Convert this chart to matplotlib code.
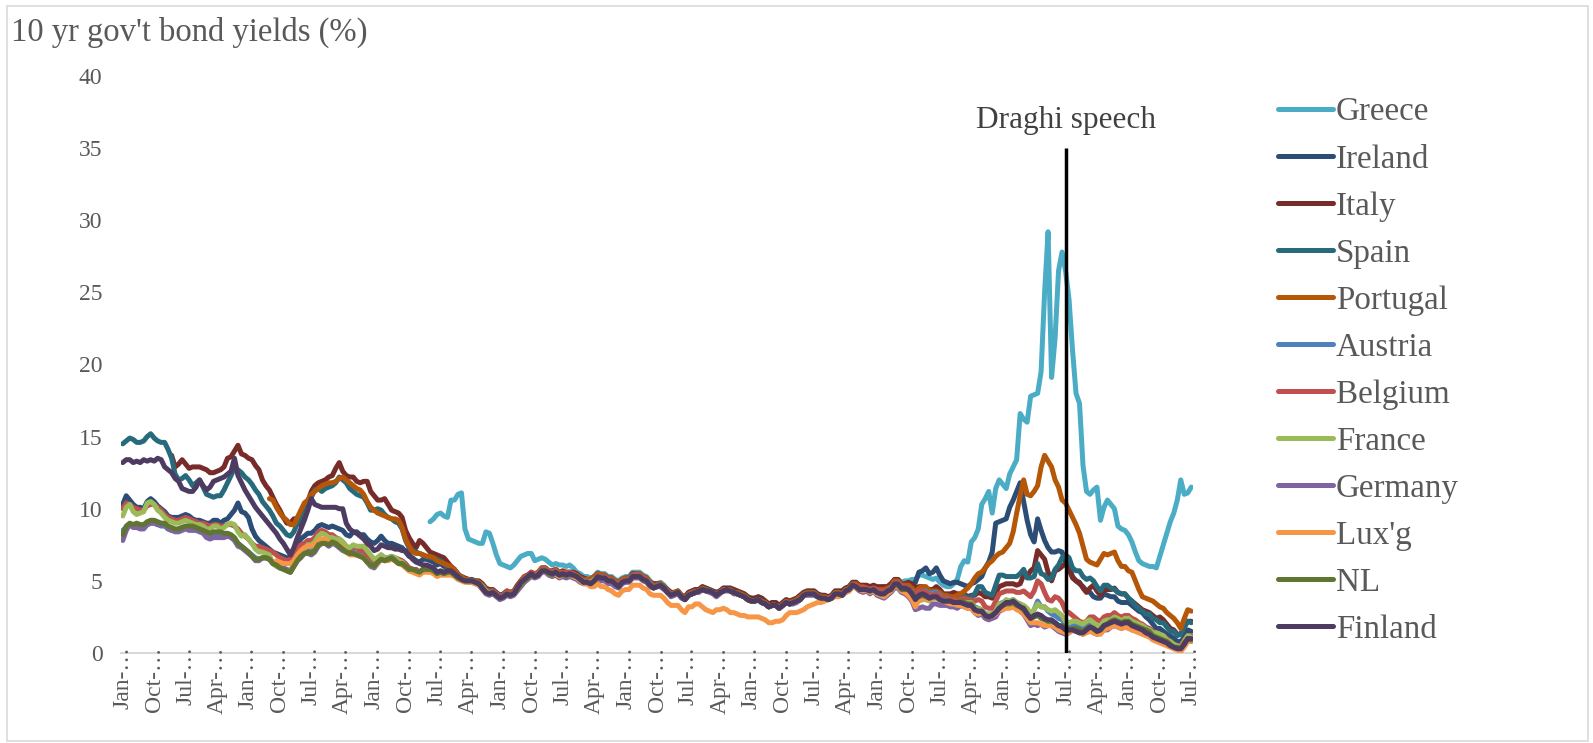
import numpy as np
import pandas as pd
import matplotlib
matplotlib.use("Agg")
import matplotlib.pyplot as plt
from matplotlib.patches import Rectangle

plt.rcParams["font.family"] = ["Liberation Serif", "DejaVu Serif"]

# Monthly categories, Jan-1990 .. Jul-2015
months = pd.date_range("1990-01-01", "2015-07-01", freq="MS")
month_names = [d.strftime("%b") for d in months]

# 10-year government bond yields (%), monthly; each series starts at its own month index
greece_start = 88
greece = [
    9.1, 9.3, 9.6, 9.7, 9.5, 9.4, 10.6, 10.6,
    11.0, 11.1, 8.6, 7.9, 7.8, 7.7, 7.6, 7.6, 8.4, 8.3, 7.6, 6.8,
    6.2, 6.1, 6.0, 5.9, 6.1, 6.4, 6.7, 6.8, 6.9, 6.9, 6.4, 6.5,
    6.6, 6.5, 6.3, 6.1, 6.2, 6.1, 6.1, 6.0, 6.1, 5.9, 5.6, 5.5,
    5.3, 5.3, 5.2, 5.3, 5.6, 5.5, 5.5, 5.3, 5.3, 5.1, 5.0, 5.2,
    5.3, 5.3, 5.6, 5.6, 5.6, 5.4, 5.3, 5.0, 4.8, 4.8, 4.9, 4.7,
    4.4, 4.2, 4.2, 4.3, 4.0, 3.9, 4.2, 4.3, 4.4, 4.4, 4.6, 4.5,
    4.4, 4.3, 4.2, 4.3, 4.5, 4.5, 4.5, 4.4, 4.3, 4.2, 4.1, 3.9,
    3.8, 3.8, 3.9, 3.8, 3.6, 3.4, 3.5, 3.5, 3.3, 3.5, 3.7, 3.6,
    3.7, 3.8, 4.0, 4.2, 4.3, 4.3, 4.3, 4.1, 4.0, 4.0, 3.9, 4.0,
    4.3, 4.3, 4.3, 4.5, 4.6, 4.9, 4.9, 4.6, 4.6, 4.6, 4.4, 4.6,
    4.4, 4.5, 4.6, 4.6, 4.8, 5.0, 5.1, 4.9, 5.0, 5.0, 5.1, 5.1,
    5.4, 5.4, 5.3, 5.2, 5.1, 5.2, 4.9, 4.7, 4.6, 4.6, 4.8, 5.1,
    6.0, 6.4, 6.3, 7.7, 8.0, 8.6, 10.3, 10.7, 11.2, 9.7, 11.4, 12.0,
    11.7, 11.4, 12.4, 12.9, 13.4, 16.6, 16.2, 16.0, 17.8, 17.9, 18.0, 19.5,
    25.0, 29.2, 19.1, 21.8, 26.5, 27.8, 26.5, 24.5, 21.0, 18.0, 17.3, 13.0,
    11.2, 11.0, 11.3, 11.5, 9.2, 10.1, 10.6, 10.3, 10.0, 8.8, 8.6, 8.5,
    8.2, 7.7, 7.0, 6.4, 6.2, 6.1, 6.0, 6.0, 5.9, 6.7, 7.5, 8.3,
    9.1, 9.7, 10.6, 12.0, 11.0, 11.1, 11.5,
]

ireland_start = 0
ireland = [
    10.3, 10.9, 10.6, 10.3, 10.1, 10.1, 10.0, 10.5, 10.7, 10.5, 10.2, 10.0,
    9.8, 9.5, 9.4, 9.4, 9.4, 9.5, 9.6, 9.5, 9.3, 9.2, 9.2, 9.1,
    9.0, 9.0, 9.2, 9.2, 9.0, 9.2, 9.3, 9.6, 9.9, 10.4, 9.8, 9.7,
    9.4, 8.6, 8.1, 7.8, 7.6, 7.4, 7.2, 7.0, 6.9, 6.8, 6.7, 6.6,
    6.6, 6.9, 7.5, 7.9, 8.1, 8.3, 8.3, 8.5, 8.8, 8.9, 8.8, 8.7,
    8.8, 8.7, 8.6, 8.5, 8.2, 8.1, 8.4, 8.4, 8.2, 8.2, 7.9, 7.7,
    7.6, 7.8, 8.1, 7.8, 7.6, 7.6, 7.5, 7.4, 7.3, 7.0, 6.7, 6.6,
    6.4, 6.3, 6.5, 6.5, 6.4, 6.3, 6.1, 6.2, 6.0, 6.0, 6.0, 5.8,
    5.5, 5.2, 5.1, 5.1, 5.1, 5.0, 4.9, 4.6, 4.3, 4.2, 4.3, 4.1,
    3.8, 3.9, 4.1, 4.0, 4.2, 4.5, 4.9, 5.1, 5.3, 5.5, 5.4, 5.5,
    5.8, 5.8, 5.6, 5.5, 5.6, 5.4, 5.5, 5.5, 5.5, 5.4, 5.3, 5.0,
    4.9, 4.9, 4.9, 5.0, 5.3, 5.2, 5.2, 5.0, 5.0, 4.8, 4.7, 4.9,
    5.0, 5.0, 5.3, 5.3, 5.3, 5.1, 5.0, 4.7, 4.6, 4.6, 4.7, 4.5,
    4.2, 4.0, 4.1, 4.2, 3.9, 3.7, 4.0, 4.1, 4.2, 4.3, 4.4, 4.4,
    4.3, 4.2, 4.0, 4.2, 4.3, 4.4, 4.3, 4.2, 4.1, 4.0, 3.9, 3.7,
    3.6, 3.6, 3.7, 3.5, 3.4, 3.2, 3.3, 3.3, 3.1, 3.3, 3.5, 3.4,
    3.5, 3.6, 3.7, 4.0, 4.1, 4.1, 4.1, 3.9, 3.8, 3.8, 3.7, 3.8,
    4.1, 4.1, 4.1, 4.3, 4.4, 4.7, 4.6, 4.4, 4.4, 4.4, 4.3, 4.4,
    4.3, 4.2, 4.3, 4.4, 4.5, 4.8, 4.8, 4.6, 4.6, 4.6, 4.6, 4.9,
    5.6, 5.7, 5.9, 5.5, 5.6, 5.9, 5.4, 5.0, 4.9, 4.8, 4.9, 4.9,
    4.8, 4.7, 4.6, 4.8, 4.9, 5.1, 5.3, 5.9, 6.3, 7.0, 9.0, 9.1,
    9.2, 9.3, 10.1, 10.6, 11.2, 11.8, 10.5, 9.2, 8.2, 7.7, 9.3, 8.5,
    7.8, 7.3, 7.0, 7.0, 7.1, 7.0, 6.3, 6.0, 5.3, 5.0, 4.8, 4.6,
    4.3, 4.2, 3.9, 3.8, 3.8, 4.1, 4.0, 3.9, 3.9, 3.6, 3.5, 3.5,
    3.5, 3.3, 3.1, 2.9, 2.8, 2.5, 2.3, 2.0, 1.7, 1.7, 1.5, 1.3,
    1.2, 1.0, 0.8, 0.8, 1.1, 1.6, 1.5,
]

italy_start = 14
italy = [
    13.7, 12.9, 13.1, 13.4, 13.1, 12.8, 12.9, 12.9, 12.9, 12.8,
    12.7, 12.5, 12.5, 12.6, 12.7, 12.9, 13.5, 13.6, 14.0, 14.4, 13.8, 13.7,
    13.5, 13.4, 13.0, 12.7, 12.0, 11.6, 11.3, 10.8, 10.3, 9.9, 9.4, 9.0,
    9.0, 9.3, 9.3, 8.8, 9.6, 10.5, 11.2, 11.6, 11.8, 11.9, 12.0, 12.2,
    12.3, 12.8, 13.2, 12.6, 12.3, 12.2, 12.2, 11.9, 11.8, 11.9, 11.9, 11.2,
    10.9, 10.6, 10.6, 10.7, 10.3, 9.9, 9.8, 9.7, 9.4, 8.5, 8.0, 7.6,
    7.3, 7.8, 7.6, 7.3, 7.0, 6.9, 6.8, 6.7, 6.6, 6.3, 6.0, 5.7,
    5.4, 5.3, 5.2, 5.1, 5.0, 5.0, 5.0, 4.8, 4.5, 4.4, 4.4, 4.2,
    4.0, 4.1, 4.3, 4.2, 4.3, 4.7, 5.0, 5.3, 5.4, 5.6, 5.4, 5.6,
    5.9, 5.9, 5.7, 5.7, 5.8, 5.6, 5.7, 5.6, 5.6, 5.6, 5.5, 5.3,
    5.2, 5.1, 5.1, 5.3, 5.5, 5.4, 5.4, 5.2, 5.2, 5.0, 4.9, 5.1,
    5.2, 5.2, 5.5, 5.5, 5.5, 5.3, 5.2, 4.9, 4.8, 4.8, 4.8, 4.6,
    4.4, 4.2, 4.2, 4.3, 4.0, 3.9, 4.2, 4.3, 4.4, 4.4, 4.6, 4.5,
    4.4, 4.3, 4.2, 4.3, 4.5, 4.5, 4.5, 4.4, 4.3, 4.2, 4.1, 3.9,
    3.8, 3.8, 3.9, 3.8, 3.6, 3.4, 3.5, 3.5, 3.3, 3.5, 3.7, 3.6,
    3.7, 3.8, 4.0, 4.2, 4.3, 4.3, 4.3, 4.1, 4.0, 4.0, 3.9, 4.0,
    4.3, 4.3, 4.3, 4.5, 4.6, 4.9, 4.9, 4.7, 4.7, 4.7, 4.6, 4.7,
    4.6, 4.6, 4.6, 4.6, 4.8, 5.1, 5.1, 4.8, 4.8, 4.9, 4.8, 4.5,
    4.6, 4.6, 4.5, 4.4, 4.4, 4.6, 4.4, 4.1, 4.1, 4.1, 4.2, 4.1,
    4.1, 4.1, 3.9, 4.0, 4.0, 4.2, 4.1, 3.9, 3.9, 3.8, 4.2, 4.6,
    4.7, 4.8, 4.8, 4.8, 4.7, 4.8, 5.4, 5.3, 5.7, 5.9, 7.1, 6.8,
    6.5, 5.6, 5.0, 5.7, 5.8, 6.0, 6.2, 5.8, 5.2, 5.0, 4.9, 4.5,
    4.2, 4.5, 4.7, 4.3, 4.0, 4.4, 4.4, 4.4, 4.5, 4.2, 4.1, 4.1,
    3.8, 3.6, 3.4, 3.2, 3.0, 2.9, 2.8, 2.6, 2.4, 2.5, 2.3, 2.0,
    1.7, 1.6, 1.3, 1.3, 1.8, 2.2, 2.2,
]

spain_start = 0
spain = [
    14.5, 14.7, 14.9, 14.8, 14.6, 14.6, 14.7, 15.0, 15.2, 14.9, 14.7, 14.6,
    14.6, 14.1, 13.5, 12.4, 12.0, 12.1, 12.3, 12.0, 11.6, 11.8, 12.0, 11.5,
    11.0, 10.9, 10.8, 10.9, 10.9, 11.3, 11.8, 12.3, 12.8, 12.7, 12.5, 12.2,
    12.0, 11.7, 11.3, 11.0, 10.5, 10.2, 9.9, 9.5, 9.0, 8.8, 8.5, 8.2,
    8.1, 8.4, 9.0, 9.5, 10.0, 10.5, 10.8, 11.3, 11.4, 11.2, 11.4, 11.5,
    11.6, 11.8, 12.2, 12.0, 11.8, 11.4, 11.2, 11.0, 10.9, 10.8, 10.4, 9.9,
    9.9, 10.0, 9.9, 9.6, 9.4, 9.3, 9.1, 9.0, 8.6, 7.8, 7.3, 7.1,
    7.0, 6.9, 6.8, 6.7, 6.6, 6.6, 6.5, 6.4, 6.2, 6.0, 5.9, 5.7,
    5.4, 5.3, 5.1, 5.1, 5.0, 5.0, 4.9, 4.7, 4.4, 4.3, 4.3, 4.1,
    3.9, 4.0, 4.2, 4.1, 4.2, 4.6, 4.9, 5.2, 5.4, 5.5, 5.4, 5.5,
    5.8, 5.8, 5.6, 5.5, 5.7, 5.5, 5.5, 5.5, 5.5, 5.4, 5.3, 5.1,
    5.0, 5.0, 5.0, 5.2, 5.4, 5.3, 5.3, 5.1, 5.1, 4.9, 4.8, 5.0,
    5.1, 5.1, 5.4, 5.4, 5.4, 5.2, 5.1, 4.8, 4.6, 4.7, 4.7, 4.5,
    4.3, 4.0, 4.1, 4.2, 3.9, 3.7, 4.0, 4.1, 4.2, 4.3, 4.4, 4.4,
    4.3, 4.2, 4.0, 4.2, 4.3, 4.4, 4.3, 4.2, 4.1, 4.0, 3.9, 3.7,
    3.6, 3.6, 3.7, 3.5, 3.4, 3.2, 3.3, 3.3, 3.1, 3.3, 3.5, 3.4,
    3.5, 3.6, 3.7, 4.0, 4.1, 4.1, 4.1, 3.9, 3.8, 3.8, 3.7, 3.8,
    4.1, 4.1, 4.0, 4.3, 4.4, 4.7, 4.7, 4.5, 4.4, 4.4, 4.3, 4.4,
    4.3, 4.3, 4.3, 4.4, 4.5, 4.8, 4.9, 4.6, 4.6, 4.6, 4.3, 3.9,
    4.2, 4.2, 4.1, 4.0, 4.1, 4.3, 4.1, 3.9, 3.8, 3.8, 3.8, 3.8,
    4.0, 4.0, 3.8, 3.9, 4.1, 4.6, 4.6, 4.2, 4.1, 4.0, 4.7, 5.4,
    5.4, 5.3, 5.3, 5.3, 5.3, 5.5, 5.8, 5.2, 5.2, 5.3, 6.2, 5.5,
    5.4, 5.1, 5.2, 5.8, 6.1, 6.6, 6.8, 6.6, 5.9, 5.7, 5.7, 5.3,
    5.1, 5.2, 5.0, 4.6, 4.3, 4.7, 4.7, 4.5, 4.4, 4.2, 4.1, 4.1,
    3.8, 3.6, 3.3, 3.1, 2.9, 2.7, 2.7, 2.4, 2.3, 2.1, 2.1, 1.8,
    1.5, 1.5, 1.2, 1.3, 1.8, 2.2, 2.1,
]

portugal_start = 42
portugal = [
    10.7, 10.6, 10.1, 9.7, 9.4, 9.2,
    8.9, 8.9, 9.4, 9.9, 10.4, 10.6, 11.0, 11.2, 11.4, 11.6, 11.7, 11.8,
    11.8, 11.9, 12.1, 12.2, 12.0, 11.8, 11.6, 11.4, 11.3, 11.0, 10.5, 10.1,
    9.9, 9.7, 9.6, 9.5, 9.4, 9.3, 9.3, 9.2, 8.7, 7.9, 7.4, 7.0,
    6.9, 6.9, 6.8, 6.7, 6.7, 6.6, 6.4, 6.3, 6.2, 6.1, 6.0, 5.8,
    5.4, 5.3, 5.1, 5.1, 5.0, 5.0, 4.9, 4.7, 4.4, 4.3, 4.3, 4.1,
    3.9, 4.0, 4.3, 4.2, 4.3, 4.6, 5.0, 5.3, 5.4, 5.6, 5.5, 5.6,
    5.9, 5.9, 5.7, 5.6, 5.8, 5.6, 5.6, 5.6, 5.6, 5.5, 5.4, 5.2,
    5.1, 5.1, 5.1, 5.3, 5.5, 5.4, 5.4, 5.2, 5.2, 5.0, 4.9, 5.1,
    5.2, 5.2, 5.4, 5.5, 5.5, 5.3, 5.2, 4.9, 4.7, 4.7, 4.8, 4.6,
    4.3, 4.1, 4.2, 4.3, 4.0, 3.8, 4.1, 4.2, 4.3, 4.3, 4.5, 4.4,
    4.3, 4.2, 4.1, 4.2, 4.4, 4.4, 4.4, 4.2, 4.2, 4.1, 4.0, 3.8,
    3.6, 3.6, 3.7, 3.6, 3.5, 3.3, 3.3, 3.3, 3.2, 3.4, 3.6, 3.5,
    3.6, 3.7, 3.9, 4.1, 4.2, 4.2, 4.2, 4.0, 3.9, 3.9, 3.8, 3.9,
    4.2, 4.2, 4.1, 4.4, 4.5, 4.8, 4.8, 4.6, 4.6, 4.5, 4.4, 4.5,
    4.4, 4.4, 4.4, 4.5, 4.6, 5.0, 5.0, 4.7, 4.7, 4.7, 4.5, 4.2,
    4.5, 4.6, 4.6, 4.3, 4.3, 4.3, 4.2, 4.0, 4.0, 3.9, 3.9, 4.0,
    4.1, 4.3, 4.5, 4.8, 5.2, 5.5, 5.6, 5.9, 6.2, 6.4, 6.7, 6.9,
    7.0, 7.3, 7.6, 8.4, 9.7, 10.9, 12.0, 11.0, 10.9, 11.2, 11.6, 12.9,
    13.7, 13.3, 12.9, 12.0, 11.5, 10.6, 10.4, 9.9, 9.4, 8.9, 8.3, 7.4,
    6.5, 6.3, 6.2, 6.1, 6.5, 6.9, 6.8, 6.9, 7.0, 6.4, 6.0, 6.0,
    5.7, 5.6, 5.0, 4.4, 3.9, 3.8, 3.7, 3.6, 3.4, 3.2, 3.1, 2.8,
    2.6, 2.4, 2.1, 1.7, 2.4, 3.0, 2.9,
]

austria_start = 0
austria = [
    8.5, 8.7, 8.9, 8.8, 8.8, 8.7, 8.7, 8.9, 9.0, 9.0, 8.9, 8.8,
    8.8, 8.6, 8.5, 8.5, 8.6, 8.7, 8.7, 8.6, 8.6, 8.6, 8.5, 8.4,
    8.2, 8.1, 8.2, 8.2, 8.2, 8.2, 8.2, 8.1, 7.9, 7.6, 7.4, 7.2,
    7.0, 6.8, 6.6, 6.5, 6.6, 6.6, 6.5, 6.3, 6.2, 6.0, 5.9, 5.8,
    5.7, 6.1, 6.5, 6.8, 7.0, 7.2, 7.1, 7.2, 7.6, 7.7, 7.7, 7.6,
    7.7, 7.6, 7.5, 7.3, 7.1, 7.0, 7.0, 6.9, 6.8, 6.7, 6.5, 6.2,
    6.1, 6.3, 6.6, 6.5, 6.5, 6.6, 6.5, 6.3, 6.3, 6.1, 5.9, 5.8,
    5.7, 5.6, 5.8, 5.8, 5.8, 5.7, 5.6, 5.6, 5.6, 5.6, 5.6, 5.4,
    5.2, 5.1, 5.0, 5.0, 5.0, 4.9, 4.8, 4.6, 4.3, 4.2, 4.3, 4.1,
    3.9, 4.0, 4.2, 4.1, 4.2, 4.5, 4.9, 5.1, 5.3, 5.5, 5.4, 5.5,
    5.8, 5.8, 5.6, 5.5, 5.7, 5.5, 5.5, 5.5, 5.5, 5.4, 5.3, 5.1,
    5.0, 5.0, 4.9, 5.1, 5.3, 5.3, 5.3, 5.1, 5.1, 4.9, 4.7, 5.0,
    5.1, 5.1, 5.4, 5.4, 5.4, 5.2, 5.1, 4.8, 4.6, 4.7, 4.7, 4.5,
    4.3, 4.0, 4.1, 4.2, 3.9, 3.7, 4.0, 4.1, 4.2, 4.3, 4.4, 4.4,
    4.3, 4.2, 4.0, 4.2, 4.3, 4.4, 4.3, 4.2, 4.1, 4.0, 3.9, 3.7,
    3.6, 3.6, 3.7, 3.5, 3.4, 3.2, 3.3, 3.3, 3.1, 3.3, 3.5, 3.4,
    3.5, 3.6, 3.7, 4.0, 4.1, 4.1, 4.1, 3.9, 3.8, 3.8, 3.7, 3.8,
    4.1, 4.1, 4.0, 4.3, 4.4, 4.7, 4.6, 4.4, 4.4, 4.4, 4.3, 4.4,
    4.2, 4.1, 4.1, 4.3, 4.4, 4.8, 4.8, 4.5, 4.5, 4.5, 4.3, 4.0,
    4.2, 4.3, 4.3, 4.1, 4.2, 4.2, 4.0, 3.8, 3.8, 3.7, 3.6, 3.6,
    3.7, 3.6, 3.5, 3.5, 3.2, 3.1, 3.0, 2.7, 2.7, 2.7, 3.0, 3.4,
    3.5, 3.6, 3.6, 3.7, 3.5, 3.4, 3.2, 2.9, 2.7, 3.0, 3.6, 3.2,
    3.2, 2.9, 2.7, 2.6, 2.4, 2.3, 2.0, 1.9, 2.0, 2.0, 1.8, 1.7,
    1.9, 2.0, 1.8, 1.6, 1.6, 2.0, 2.0, 2.2, 2.3, 2.2, 2.1, 2.2,
    2.2, 2.0, 1.9, 1.8, 1.7, 1.5, 1.5, 1.2, 1.1, 1.0, 0.9, 0.8,
    0.6, 0.4, 0.3, 0.3, 0.6, 1.0, 1.0,
]

belgium_start = 0
belgium = [
    10.0, 10.4, 10.3, 10.1, 10.0, 9.9, 9.9, 10.2, 10.3, 10.3, 10.1, 9.9,
    9.6, 9.4, 9.3, 9.2, 9.2, 9.3, 9.4, 9.3, 9.2, 9.1, 9.0, 9.0,
    8.9, 8.8, 8.9, 8.9, 8.8, 8.8, 8.9, 8.9, 8.8, 8.6, 8.3, 8.1,
    7.9, 7.6, 7.4, 7.4, 7.3, 7.2, 7.1, 7.0, 6.8, 6.6, 6.5, 6.4,
    6.5, 6.8, 7.2, 7.5, 7.6, 7.8, 7.8, 8.0, 8.4, 8.5, 8.4, 8.2,
    8.2, 8.0, 7.9, 7.7, 7.4, 7.2, 7.3, 7.3, 7.1, 7.1, 6.8, 6.6,
    6.4, 6.6, 6.8, 6.6, 6.6, 6.7, 6.6, 6.5, 6.4, 6.2, 5.9, 5.8,
    5.8, 5.6, 5.8, 5.9, 5.8, 5.7, 5.5, 5.6, 5.6, 5.6, 5.7, 5.5,
    5.3, 5.1, 5.0, 5.0, 5.0, 4.9, 4.8, 4.6, 4.3, 4.2, 4.3, 4.1,
    3.9, 4.0, 4.2, 4.1, 4.2, 4.5, 4.9, 5.2, 5.4, 5.6, 5.4, 5.5,
    5.8, 5.8, 5.7, 5.6, 5.7, 5.5, 5.6, 5.5, 5.6, 5.5, 5.3, 5.1,
    5.0, 5.0, 5.0, 5.1, 5.4, 5.3, 5.3, 5.1, 5.1, 4.9, 4.8, 5.0,
    5.1, 5.1, 5.4, 5.4, 5.4, 5.2, 5.1, 4.7, 4.6, 4.7, 4.7, 4.5,
    4.3, 4.0, 4.1, 4.2, 3.9, 3.7, 4.0, 4.2, 4.2, 4.3, 4.4, 4.4,
    4.3, 4.2, 4.0, 4.2, 4.4, 4.4, 4.3, 4.2, 4.1, 4.0, 3.9, 3.7,
    3.6, 3.6, 3.7, 3.5, 3.4, 3.2, 3.3, 3.3, 3.1, 3.3, 3.5, 3.4,
    3.5, 3.6, 3.8, 4.0, 4.1, 4.1, 4.1, 3.9, 3.8, 3.8, 3.8, 3.9,
    4.1, 4.1, 4.1, 4.3, 4.4, 4.7, 4.7, 4.5, 4.5, 4.5, 4.4, 4.5,
    4.4, 4.3, 4.3, 4.4, 4.5, 4.9, 4.9, 4.6, 4.6, 4.5, 4.3, 4.0,
    4.3, 4.3, 4.2, 4.0, 4.0, 4.1, 3.9, 3.8, 3.7, 3.7, 3.7, 3.6,
    3.7, 3.8, 3.7, 3.7, 3.6, 3.7, 3.6, 3.2, 3.1, 3.1, 3.6, 4.1,
    4.2, 4.3, 4.3, 4.3, 4.2, 4.2, 4.3, 4.1, 3.9, 4.3, 5.0, 4.8,
    4.2, 3.7, 3.6, 3.9, 3.8, 3.5, 2.9, 2.8, 2.6, 2.4, 2.2, 2.1,
    2.2, 2.5, 2.5, 2.3, 2.2, 2.5, 2.6, 2.6, 2.8, 2.6, 2.5, 2.6,
    2.6, 2.4, 2.3, 2.1, 2.0, 1.8, 1.7, 1.5, 1.4, 1.3, 1.2, 1.0,
    0.8, 0.6, 0.5, 0.5, 0.9, 1.2, 1.2,
]

france_start = 0
france = [
    9.5, 10.1, 10.3, 9.8, 9.6, 9.7, 9.8, 10.4, 10.5, 10.3, 9.9, 9.7,
    9.4, 9.2, 9.1, 9.0, 9.0, 9.1, 9.2, 9.1, 9.0, 8.9, 8.9, 8.8,
    8.6, 8.6, 8.8, 8.8, 8.6, 8.7, 8.9, 9.0, 8.9, 8.4, 8.1, 8.2,
    7.9, 7.6, 7.2, 7.0, 7.0, 6.9, 6.8, 6.2, 6.0, 5.9, 5.8, 5.7,
    5.6, 6.1, 6.6, 7.0, 7.2, 7.5, 7.5, 7.7, 8.1, 8.3, 8.2, 8.0,
    8.0, 7.9, 7.9, 7.7, 7.4, 7.3, 7.5, 7.4, 7.4, 7.4, 7.1, 6.8,
    6.5, 6.6, 6.8, 6.6, 6.6, 6.7, 6.6, 6.4, 6.3, 6.0, 5.7, 5.7,
    5.6, 5.6, 5.7, 5.7, 5.7, 5.6, 5.4, 5.5, 5.5, 5.6, 5.6, 5.4,
    5.2, 5.1, 5.0, 5.0, 5.0, 4.9, 4.8, 4.6, 4.3, 4.1, 4.2, 4.0,
    3.8, 3.9, 4.1, 4.0, 4.1, 4.4, 4.8, 5.1, 5.3, 5.4, 5.3, 5.4,
    5.7, 5.7, 5.6, 5.5, 5.6, 5.4, 5.4, 5.4, 5.4, 5.4, 5.3, 5.1,
    4.9, 4.9, 4.9, 5.1, 5.3, 5.2, 5.2, 5.0, 5.0, 4.8, 4.6, 4.9,
    5.0, 5.0, 5.3, 5.3, 5.3, 5.1, 5.0, 4.7, 4.5, 4.6, 4.7, 4.5,
    4.2, 4.0, 4.1, 4.2, 3.9, 3.7, 4.0, 4.1, 4.2, 4.3, 4.4, 4.3,
    4.3, 4.2, 4.0, 4.2, 4.3, 4.4, 4.3, 4.2, 4.1, 4.0, 3.9, 3.7,
    3.6, 3.6, 3.7, 3.5, 3.4, 3.2, 3.3, 3.3, 3.1, 3.3, 3.5, 3.4,
    3.5, 3.6, 3.7, 4.0, 4.1, 4.1, 4.1, 3.9, 3.8, 3.8, 3.7, 3.8,
    4.1, 4.1, 4.0, 4.3, 4.4, 4.7, 4.6, 4.4, 4.4, 4.4, 4.3, 4.4,
    4.2, 4.1, 4.1, 4.3, 4.4, 4.8, 4.8, 4.5, 4.4, 4.3, 4.0, 3.6,
    3.6, 3.7, 3.7, 3.6, 3.8, 3.8, 3.7, 3.6, 3.6, 3.5, 3.5, 3.5,
    3.5, 3.5, 3.5, 3.5, 3.1, 3.1, 3.0, 2.7, 2.7, 2.7, 2.9, 3.4,
    3.4, 3.7, 3.6, 3.7, 3.5, 3.4, 3.3, 3.1, 2.7, 3.0, 3.4, 3.2,
    3.2, 3.0, 2.9, 3.0, 2.8, 2.6, 2.2, 2.1, 2.2, 2.2, 2.1, 2.0,
    2.2, 2.3, 2.1, 1.9, 1.9, 2.2, 2.3, 2.3, 2.5, 2.4, 2.2, 2.4,
    2.4, 2.2, 2.1, 2.0, 1.9, 1.7, 1.6, 1.4, 1.4, 1.3, 1.2, 0.9,
    0.8, 0.6, 0.5, 0.4, 0.8, 1.2, 1.1,
]

germany_start = 0
germany = [
    7.8, 8.5, 8.9, 8.7, 8.7, 8.6, 8.6, 8.9, 9.0, 9.0, 8.9, 8.9,
    8.9, 8.6, 8.5, 8.4, 8.4, 8.5, 8.6, 8.5, 8.5, 8.5, 8.4, 8.3,
    8.0, 7.9, 8.0, 8.0, 8.0, 8.0, 8.1, 8.0, 7.8, 7.4, 7.3, 7.1,
    6.9, 6.7, 6.4, 6.4, 6.6, 6.6, 6.5, 6.2, 6.1, 5.9, 5.9, 5.7,
    5.6, 6.0, 6.4, 6.6, 6.9, 6.9, 6.8, 7.0, 7.4, 7.6, 7.6, 7.4,
    7.6, 7.5, 7.3, 7.1, 7.0, 6.9, 6.9, 6.8, 6.7, 6.6, 6.3, 6.0,
    5.9, 6.2, 6.5, 6.4, 6.5, 6.6, 6.4, 6.2, 6.2, 6.0, 5.8, 5.8,
    5.7, 5.6, 5.8, 5.8, 5.8, 5.7, 5.5, 5.6, 5.5, 5.6, 5.6, 5.4,
    5.2, 5.1, 5.0, 4.9, 4.9, 4.8, 4.7, 4.4, 4.1, 4.0, 4.1, 3.9,
    3.7, 3.8, 4.0, 3.9, 4.0, 4.3, 4.6, 4.9, 5.1, 5.3, 5.2, 5.3,
    5.6, 5.6, 5.4, 5.3, 5.4, 5.2, 5.3, 5.2, 5.3, 5.2, 5.1, 4.9,
    4.8, 4.8, 4.7, 4.8, 5.1, 5.0, 5.0, 4.8, 4.8, 4.6, 4.5, 4.8,
    4.9, 4.9, 5.2, 5.2, 5.2, 5.0, 4.9, 4.6, 4.5, 4.6, 4.6, 4.4,
    4.2, 3.9, 4.0, 4.1, 3.8, 3.7, 4.0, 4.1, 4.2, 4.2, 4.4, 4.3,
    4.2, 4.1, 3.9, 4.1, 4.3, 4.3, 4.3, 4.1, 4.1, 4.0, 3.9, 3.7,
    3.6, 3.6, 3.7, 3.5, 3.4, 3.2, 3.3, 3.3, 3.1, 3.3, 3.5, 3.4,
    3.4, 3.5, 3.7, 4.0, 4.0, 4.0, 4.0, 3.9, 3.8, 3.8, 3.7, 3.8,
    4.0, 4.0, 4.0, 4.2, 4.3, 4.6, 4.5, 4.3, 4.2, 4.3, 4.1, 4.3,
    4.0, 3.9, 3.8, 4.0, 4.2, 4.5, 4.5, 4.2, 4.1, 3.9, 3.6, 3.0,
    3.1, 3.2, 3.1, 3.1, 3.4, 3.4, 3.3, 3.3, 3.3, 3.2, 3.2, 3.1,
    3.3, 3.2, 3.1, 3.1, 2.8, 2.6, 2.7, 2.4, 2.3, 2.4, 2.5, 2.9,
    3.0, 3.2, 3.2, 3.3, 3.1, 2.9, 2.7, 2.3, 1.9, 2.0, 1.9, 2.0,
    1.8, 1.9, 1.9, 1.7, 1.5, 1.4, 1.3, 1.4, 1.6, 1.5, 1.4, 1.3,
    1.5, 1.6, 1.4, 1.3, 1.4, 1.6, 1.6, 1.8, 1.9, 1.8, 1.7, 1.8,
    1.8, 1.6, 1.6, 1.5, 1.4, 1.3, 1.2, 1.0, 1.0, 0.9, 0.8, 0.6,
    0.5, 0.3, 0.3, 0.2, 0.6, 0.9, 0.8,
]

luxembourg_start = 44
luxembourg = [
    6.4, 6.3, 6.2, 6.2,
    6.2, 6.4, 6.8, 7.1, 7.3, 7.4, 7.4, 7.5, 7.8, 7.9, 7.9, 7.7,
    7.7, 7.6, 7.5, 7.3, 7.0, 6.8, 6.8, 6.8, 6.7, 6.6, 6.3, 6.1,
    6.0, 6.2, 6.5, 6.4, 6.4, 6.5, 6.4, 6.2, 6.1, 5.9, 5.7, 5.6,
    5.5, 5.4, 5.6, 5.6, 5.6, 5.5, 5.3, 5.4, 5.4, 5.4, 5.4, 5.3,
    5.1, 5.0, 4.9, 4.9, 4.9, 4.8, 4.7, 4.5, 4.2, 4.1, 4.2, 4.0,
    3.8, 3.9, 4.1, 4.0, 4.1, 4.4, 4.8, 5.0, 5.2, 5.4, 5.3, 5.4,
    5.7, 5.7, 5.5, 5.4, 5.5, 5.3, 5.4, 5.4, 5.4, 5.3, 5.2, 5.0,
    4.8, 4.8, 4.6, 4.6, 4.8, 4.6, 4.6, 4.4, 4.3, 4.1, 4.0, 4.3,
    4.4, 4.4, 4.7, 4.7, 4.7, 4.5, 4.4, 4.1, 4.0, 4.0, 4.0, 3.8,
    3.5, 3.3, 3.3, 3.3, 3.0, 2.8, 3.2, 3.2, 3.4, 3.4, 3.2, 3.0,
    2.9, 2.8, 3.0, 3.0, 3.1, 3.0, 2.8, 2.8, 2.7, 2.6, 2.6, 2.5,
    2.5, 2.5, 2.5, 2.4, 2.3, 2.1, 2.1, 2.2, 2.2, 2.3, 2.6, 2.8,
    2.8, 2.8, 2.9, 3.0, 3.2, 3.3, 3.4, 3.5, 3.5, 3.6, 3.7, 3.8,
    3.9, 3.9, 4.0, 4.2, 4.3, 4.6, 4.5, 4.4, 4.3, 4.4, 4.2, 4.3,
    4.1, 4.0, 3.9, 4.1, 4.3, 4.6, 4.6, 4.3, 4.2, 4.0, 3.7, 3.2,
    3.7, 3.8, 3.7, 3.7, 3.8, 3.8, 3.7, 3.6, 3.5, 3.4, 3.4, 3.3,
    3.3, 3.2, 3.1, 3.1, 2.8, 2.7, 2.8, 2.6, 2.5, 2.6, 2.7, 3.0,
    3.0, 3.1, 3.1, 3.2, 3.0, 2.9, 2.7, 2.4, 2.1, 2.1, 2.1, 2.0,
    1.9, 1.9, 1.9, 1.8, 1.6, 1.5, 1.4, 1.4, 1.6, 1.5, 1.4, 1.3,
    1.4, 1.5, 1.4, 1.3, 1.3, 1.6, 1.7, 1.8, 1.9, 1.8, 1.7, 1.8,
    1.7, 1.6, 1.5, 1.4, 1.3, 1.2, 1.1, 0.9, 0.8, 0.7, 0.6, 0.5,
    0.4, 0.3, 0.2, 0.1, 0.4, 0.8, 0.8,
]

netherlands_start = 0
netherlands = [
    8.2, 8.8, 9.0, 8.9, 9.0, 8.9, 8.9, 9.1, 9.2, 9.2, 9.1, 9.0,
    9.0, 8.8, 8.7, 8.6, 8.6, 8.7, 8.8, 8.8, 8.8, 8.7, 8.6, 8.5,
    8.4, 8.3, 8.4, 8.4, 8.4, 8.3, 8.3, 8.2, 8.0, 7.6, 7.4, 7.2,
    7.0, 6.7, 6.5, 6.5, 6.6, 6.6, 6.5, 6.2, 6.1, 5.9, 5.8, 5.7,
    5.6, 6.0, 6.4, 6.7, 6.9, 7.0, 6.9, 7.1, 7.5, 7.6, 7.6, 7.5,
    7.7, 7.6, 7.4, 7.2, 7.0, 6.9, 6.9, 6.8, 6.7, 6.6, 6.3, 6.1,
    6.0, 6.3, 6.5, 6.4, 6.5, 6.6, 6.4, 6.2, 6.2, 6.0, 5.8, 5.8,
    5.7, 5.6, 5.8, 5.8, 5.8, 5.7, 5.5, 5.6, 5.5, 5.6, 5.6, 5.4,
    5.2, 5.1, 5.0, 5.0, 5.0, 4.9, 4.8, 4.5, 4.2, 4.1, 4.2, 4.0,
    3.8, 3.9, 4.1, 4.0, 4.1, 4.4, 4.8, 5.0, 5.2, 5.4, 5.3, 5.4,
    5.7, 5.7, 5.5, 5.4, 5.6, 5.4, 5.4, 5.4, 5.4, 5.4, 5.3, 5.1,
    4.9, 4.9, 4.8, 5.0, 5.2, 5.2, 5.2, 5.0, 5.0, 4.8, 4.6, 4.9,
    5.0, 5.0, 5.3, 5.3, 5.3, 5.1, 5.0, 4.7, 4.6, 4.6, 4.7, 4.5,
    4.2, 4.0, 4.1, 4.2, 3.9, 3.7, 4.0, 4.1, 4.2, 4.3, 4.4, 4.4,
    4.3, 4.2, 4.0, 4.2, 4.3, 4.4, 4.3, 4.2, 4.1, 4.0, 3.9, 3.7,
    3.6, 3.6, 3.7, 3.5, 3.4, 3.2, 3.3, 3.3, 3.1, 3.3, 3.5, 3.4,
    3.5, 3.6, 3.7, 4.0, 4.1, 4.1, 4.1, 3.9, 3.8, 3.8, 3.7, 3.8,
    4.1, 4.1, 4.0, 4.3, 4.4, 4.7, 4.6, 4.4, 4.4, 4.4, 4.3, 4.4,
    4.2, 4.1, 4.1, 4.3, 4.4, 4.7, 4.7, 4.4, 4.4, 4.4, 4.2, 3.8,
    3.9, 4.0, 3.9, 3.8, 3.9, 3.9, 3.7, 3.6, 3.6, 3.6, 3.5, 3.5,
    3.6, 3.5, 3.4, 3.4, 3.0, 2.9, 2.9, 2.6, 2.5, 2.6, 2.8, 3.1,
    3.3, 3.4, 3.4, 3.5, 3.3, 3.2, 3.0, 2.7, 2.4, 2.5, 2.6, 2.4,
    2.3, 2.2, 2.2, 2.1, 1.9, 1.9, 1.6, 1.6, 1.7, 1.7, 1.6, 1.5,
    1.7, 1.8, 1.7, 1.5, 1.6, 1.9, 2.0, 2.2, 2.3, 2.2, 2.1, 2.2,
    2.2, 2.0, 1.9, 1.8, 1.7, 1.6, 1.5, 1.2, 1.1, 1.0, 0.9, 0.8,
    0.6, 0.4, 0.4, 0.3, 0.7, 1.0, 0.9,
]

finland_start = 0
finland = [
    13.2, 13.4, 13.4, 13.2, 13.3, 13.2, 13.4, 13.3, 13.4, 13.3, 13.5, 13.4,
    12.9, 12.7, 12.5, 12.1, 11.9, 11.4, 11.3, 11.2, 11.2, 11.5, 12.0, 11.6,
    11.3, 11.5, 11.9, 12.0, 12.1, 12.2, 12.4, 12.6, 13.5, 12.3, 11.8, 11.3,
    10.9, 10.5, 10.1, 9.8, 9.5, 9.2, 8.9, 8.6, 8.3, 7.9, 7.6, 7.2,
    6.8, 7.3, 8.0, 8.6, 9.2, 9.9, 10.7, 10.3, 10.2, 10.1, 10.1, 10.1,
    10.1, 10.1, 10.0, 10.0, 9.0, 8.6, 8.4, 8.3, 8.1, 7.9, 7.6, 7.4,
    7.1, 7.2, 7.5, 7.4, 7.3, 7.3, 7.2, 7.2, 7.1, 7.1, 6.8, 6.5,
    6.3, 6.2, 6.1, 6.1, 6.0, 5.9, 5.6, 5.7, 5.6, 5.7, 5.7, 5.5,
    5.3, 5.1, 5.0, 5.0, 5.0, 4.9, 4.8, 4.5, 4.2, 4.1, 4.2, 4.0,
    3.8, 3.9, 4.1, 4.0, 4.1, 4.5, 4.9, 5.1, 5.3, 5.5, 5.3, 5.4,
    5.7, 5.7, 5.6, 5.5, 5.6, 5.4, 5.5, 5.4, 5.5, 5.4, 5.3, 5.1,
    4.9, 4.9, 4.8, 5.0, 5.3, 5.2, 5.2, 5.0, 5.0, 4.8, 4.6, 4.9,
    5.0, 5.0, 5.3, 5.3, 5.3, 5.1, 5.0, 4.7, 4.5, 4.6, 4.7, 4.5,
    4.2, 4.0, 4.1, 4.2, 3.9, 3.7, 4.0, 4.1, 4.2, 4.3, 4.4, 4.3,
    4.3, 4.2, 4.0, 4.2, 4.3, 4.4, 4.3, 4.2, 4.1, 4.0, 3.9, 3.7,
    3.6, 3.6, 3.7, 3.5, 3.4, 3.2, 3.3, 3.3, 3.1, 3.3, 3.5, 3.4,
    3.5, 3.6, 3.7, 4.0, 4.1, 4.1, 4.1, 3.9, 3.8, 3.8, 3.7, 3.8,
    4.1, 4.1, 4.0, 4.3, 4.4, 4.7, 4.6, 4.4, 4.4, 4.4, 4.3, 4.4,
    4.2, 4.1, 4.1, 4.3, 4.4, 4.8, 4.8, 4.5, 4.5, 4.4, 4.1, 3.7,
    4.0, 4.1, 4.0, 3.8, 3.9, 3.9, 3.7, 3.6, 3.6, 3.6, 3.5, 3.5,
    3.5, 3.4, 3.3, 3.3, 3.0, 2.9, 2.9, 2.6, 2.5, 2.6, 2.8, 3.1,
    3.3, 3.5, 3.5, 3.6, 3.4, 3.2, 3.1, 2.7, 2.4, 2.6, 2.7, 2.6,
    2.4, 2.3, 2.3, 2.1, 1.9, 1.8, 1.6, 1.6, 1.6, 1.5, 1.4, 1.4,
    1.6, 1.8, 1.7, 1.5, 1.6, 1.9, 2.0, 2.1, 2.2, 2.1, 2.0, 2.1,
    2.1, 1.9, 1.8, 1.7, 1.6, 1.4, 1.3, 1.1, 1.0, 0.9, 0.8, 0.7,
    0.5, 0.4, 0.3, 0.3, 0.6, 1.0, 1.0,
]

series = [
    ("Greece", greece_start, greece, "#4BACC6"),
    ("Ireland", ireland_start, ireland, "#2C4D75"),
    ("Italy", italy_start, italy, "#772C2A"),
    ("Spain", spain_start, spain, "#276A7C"),
    ("Portugal", portugal_start, portugal, "#B65708"),
    ("Austria", austria_start, austria, "#4F81BD"),
    ("Belgium", belgium_start, belgium, "#C0504D"),
    ("France", france_start, france, "#9BBB59"),
    ("Germany", germany_start, germany, "#8064A2"),
    ("Lux'g", luxembourg_start, luxembourg, "#F79646"),
    ("NL", netherlands_start, netherlands, "#5F7530"),
    ("Finland", finland_start, finland, "#4D3B62"),
]

speech_month = "2012-07-01"
speech_line_top = 35.0
speech_label_y = 36.9

W, H = 1593, 743
fig = plt.figure(figsize=(W / 100, H / 100), dpi=100)
ax = fig.add_axes([121 / W, (H - 653) / H, (1193 - 121) / W, (653 - 76) / H])

handles = []
for name, start, vals, color in series:
    x = np.arange(start, start + len(vals))
    (ln,) = ax.plot(x, vals, color=color, lw=3.6, label=name,
                    solid_capstyle="round", solid_joinstyle="round")
    handles.append(ln)

ax.set_xlim(-0.5, len(months) - 0.5)
ax.set_ylim(0, 40)
ax.set_yticks(range(0, 41, 5))
tick_idx = list(range(0, len(months), 9))
ax.set_xticks(tick_idx)
ax.set_xticklabels([month_names[i] + "-\u2026" for i in tick_idx], rotation=90)

for s in ("left", "right", "top"):
    ax.spines[s].set_visible(False)
ax.spines["bottom"].set_color("#D9D9D9")
ax.spines["bottom"].set_linewidth(1.5)
ax.spines["bottom"].set_zorder(0)
ax.tick_params(axis="y", length=0, pad=13.3, labelsize=17, labelcolor="#595959")
ax.tick_params(axis="x", length=0, pad=-5, labelsize=17, labelcolor="#595959")

# Draghi speech marker
sx = months.get_loc(pd.Timestamp(speech_month))
ax.plot([sx, sx], [0, speech_line_top], color="black", lw=2.5, zorder=20,
        solid_capstyle="butt")
ax.text(sx, speech_label_y, "Draghi speech", ha="center", va="center",
        fontsize=22.5, color="#404040")

fig.text(11 / W, 1 - 32 / H, "10 yr gov't bond yields (%)", ha="left", va="center",
         fontsize=23.5, color="#595959")

leg = fig.legend(handles=handles, loc="upper left",
                 bbox_to_anchor=(1278 / W, 1 - 97 / H), frameon=False,
                 borderpad=0, borderaxespad=0, handlelength=1.65,
                 handletextpad=0.1, labelspacing=0.5, fontsize=23.8)
for t in leg.get_texts():
    t.set_color("#595959")
for h in leg.legend_handles:
    h.set_linewidth(3.6)

fig.add_artist(Rectangle((7 / W, 2 / H), (1588 - 7) / W, (737 - 2) / H,
                         transform=fig.transFigure, fill=False,
                         edgecolor="#D9D9D9", linewidth=1.2))

fig.savefig("out.png", dpi=100)
